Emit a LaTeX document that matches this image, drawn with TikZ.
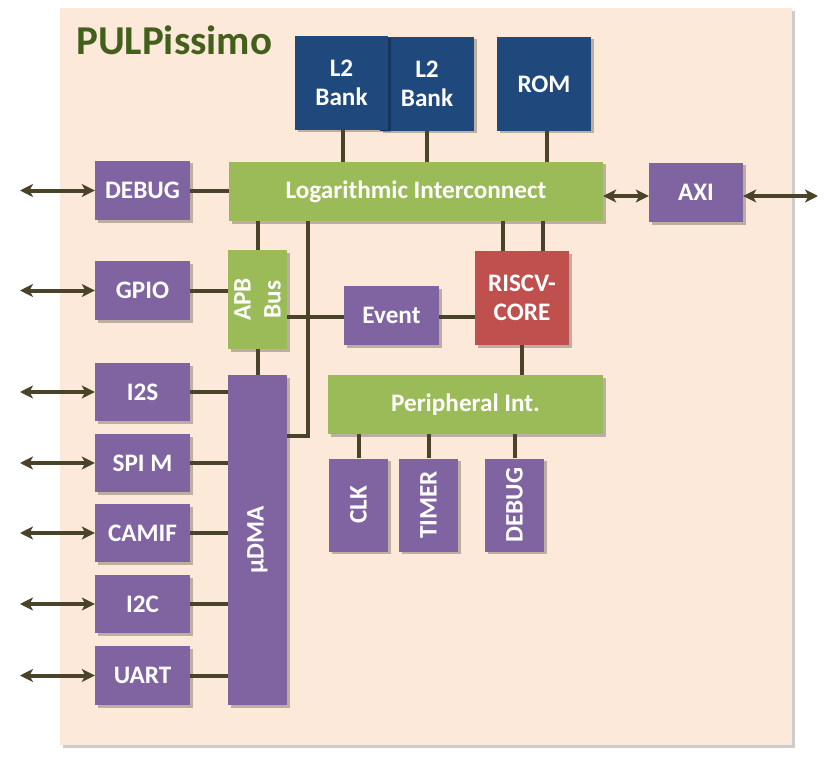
\documentclass[tikz,border=0pt]{standalone}
\usepackage{fontspec}
\setmainfont{Carlito}
\usetikzlibrary{arrows.meta,shadows}
\definecolor{upurple}{HTML}{8064A2}
\definecolor{ugreen}{HTML}{9BBB59}
\definecolor{ublue}{HTML}{1F497D}
\definecolor{ured}{HTML}{C0504D}
\definecolor{ubg}{HTML}{FDE9D9}
\definecolor{uline}{HTML}{494429}
\definecolor{utitle}{HTML}{435F1C}
\begin{document}
\begin{tikzpicture}[x=1pt,y=-1pt,
  box/.style={draw=none, inner sep=0pt, text=white, align=center,
    font=\bfseries\fontsize{25.2}{29.5}\selectfont,
    drop shadow={shadow xshift=2.5pt,shadow yshift=-2.5pt,opacity=0.25,fill=black}},
  pbox/.style={box,fill=upurple},
  gbox/.style={box,fill=ugreen},
  bbox/.style={box,fill=ublue},
  rbox/.style={box,fill=ured},
  rtext/.style={inner sep=0pt, text=white, align=center, rotate=90,
    font=\bfseries\fontsize{25.2}{30}\selectfont},
  conn/.style={draw=uline, line width=4pt},
  dbl/.style={conn, {Stealth[length=13pt,width=13pt,inset=3.5pt]}-{Stealth[length=13pt,width=13pt,inset=3.5pt]}}
]
\useasboundingbox (0,0) rectangle (838,757);
% panel
\path[fill=ubg, drop shadow={shadow xshift=3pt,shadow yshift=-3pt,opacity=0.2,fill=black}] (60,8) rectangle (792,745);
\node[anchor=base west, inner sep=0pt, text=utitle, font=\bfseries\fontsize{41}{45}\selectfont] (title) at (76,54.5) {PULPissimo};

% memory
\node[bbox, minimum width=94, minimum height=94] (l2b) at (427,84) {L2\\Bank};
\node[bbox, minimum width=93, minimum height=94] (l2a) at (341.5,83) {L2\\Bank};
\node[bbox, minimum width=94, minimum height=94] (rom) at (544,84) {ROM};

% interconnects
\node[gbox, minimum width=374, minimum height=59] (log) at (416,191.5) {Logarithmic Interconnect};
\node[gbox, minimum width=275, minimum height=59] (per) at (465.5,404.5) {Peripheral Int.};
\node[gbox, minimum width=59, minimum height=99] (apb) at (257.5,299.5) {};
\node[rtext] (apbt) at (apb) {APB\\Bus};

% core side
\node[rbox, minimum width=94, minimum height=94] (core) at (522,298) {RISCV-\\CORE};
\node[pbox, minimum width=95, minimum height=59] (event) at (391.5,315.5) {Event};
\node[pbox, minimum width=94, minimum height=59] (axi) at (696,192.5) {AXI};

% bottom peripherals
\node[pbox, minimum width=59, minimum height=93] (clk) at (358.5,505) {};
\node[rtext] (clkt) at (clk) {CLK};
\node[pbox, minimum width=59, minimum height=93] (timer) at (428.5,505) {};
\node[rtext] (timert) at (timer) {TIMER};
\node[pbox, minimum width=59, minimum height=93] (dbg) at (514.5,505) {};
\node[rtext] (dbgt) at (dbg) {DEBUG};

% udma
\node[pbox, minimum width=59, minimum height=330] (udma) at (257.5,540) {};
\node[rtext] (udmat) at (udma) {µDMA};

% left peripherals
\node[pbox, minimum width=95, minimum height=59] (debug) at (142.5,190.5) {DEBUG};
\node[pbox, minimum width=95, minimum height=59] (gpio) at (142.5,290.5) {GPIO};
\node[pbox, minimum width=95, minimum height=58] (i2s) at (142.5,392) {I2S};
\node[pbox, minimum width=95, minimum height=58] (spi) at (142.5,463) {SPI M};
\node[pbox, minimum width=95, minimum height=58] (camif) at (142.5,533) {CAMIF};
\node[pbox, minimum width=95, minimum height=58] (i2c) at (142.5,604) {I2C};
\node[pbox, minimum width=95, minimum height=59] (uart) at (142.5,675.5) {UART};

% free ends
\coordinate (edebug) at (20,190.5);
\coordinate (egpio) at (20,290.5);
\coordinate (ei2s) at (20,392);
\coordinate (espi) at (20,463);
\coordinate (ecamif) at (20,533);
\coordinate (ei2c) at (20,604);
\coordinate (euart) at (20,675.5);
\coordinate (eaxi) at (818,196);
\coordinate (jd) at (308,436);

% connectors
\draw[conn] ([xshift=1.5pt]l2a.south) -- ([xshift=1.5pt]l2a.south |- log.north);
\draw[conn] (l2b.south) -- (l2b.south |- log.north);
\draw[conn] ([xshift=3pt]rom.south) -- ([xshift=3pt]rom.south |- log.north);
\draw[conn] (debug.east) -- (debug.east -| log.west);
\draw[conn] (apb.north) -- (apb.north |- log.south);
\draw[conn] (jd |- log.south) -- (jd) -- (jd -| udma.east);
\draw[conn] (gpio.east) -- (gpio.east -| apb.west);
\draw[conn] ([yshift=-1.5pt]event.west) -- ([yshift=-1.5pt]event.west -| apb.east);
\draw[conn] ([yshift=-1.5pt]event.east) -- ([yshift=-1.5pt]event.east -| core.west);
\draw[conn] ([xshift=-19pt]core.north) -- ([xshift=-19pt]core.north |- log.south);
\draw[conn] ([xshift=21pt]core.north) -- ([xshift=21pt]core.north |- log.south);
\draw[conn] (core.south) -- (core.south |- per.north);
\draw[conn] (clk.north) -- (clk.north |- per.south);
\draw[conn] (timer.north) -- (timer.north |- per.south);
\draw[conn] (dbg.north) -- (dbg.north |- per.south);
\draw[conn] (apb.south) -- (udma.north);
\foreach \p in {i2s,spi,camif,i2c,uart}{
  \draw[conn] (\p.east) -- (\p.east -| udma.west);
}
% external arrows
\foreach \p in {debug,gpio,i2s,spi,camif,i2c,uart}{
  \draw[dbl] (e\p) -- (\p.west);
}
\draw[dbl] ([yshift=-3.5pt]axi.west -| log.east) -- ([yshift=-3.5pt]axi.west);
\draw[dbl] ([yshift=-3.5pt]axi.east) -- (eaxi);
\end{tikzpicture}
\end{document}
